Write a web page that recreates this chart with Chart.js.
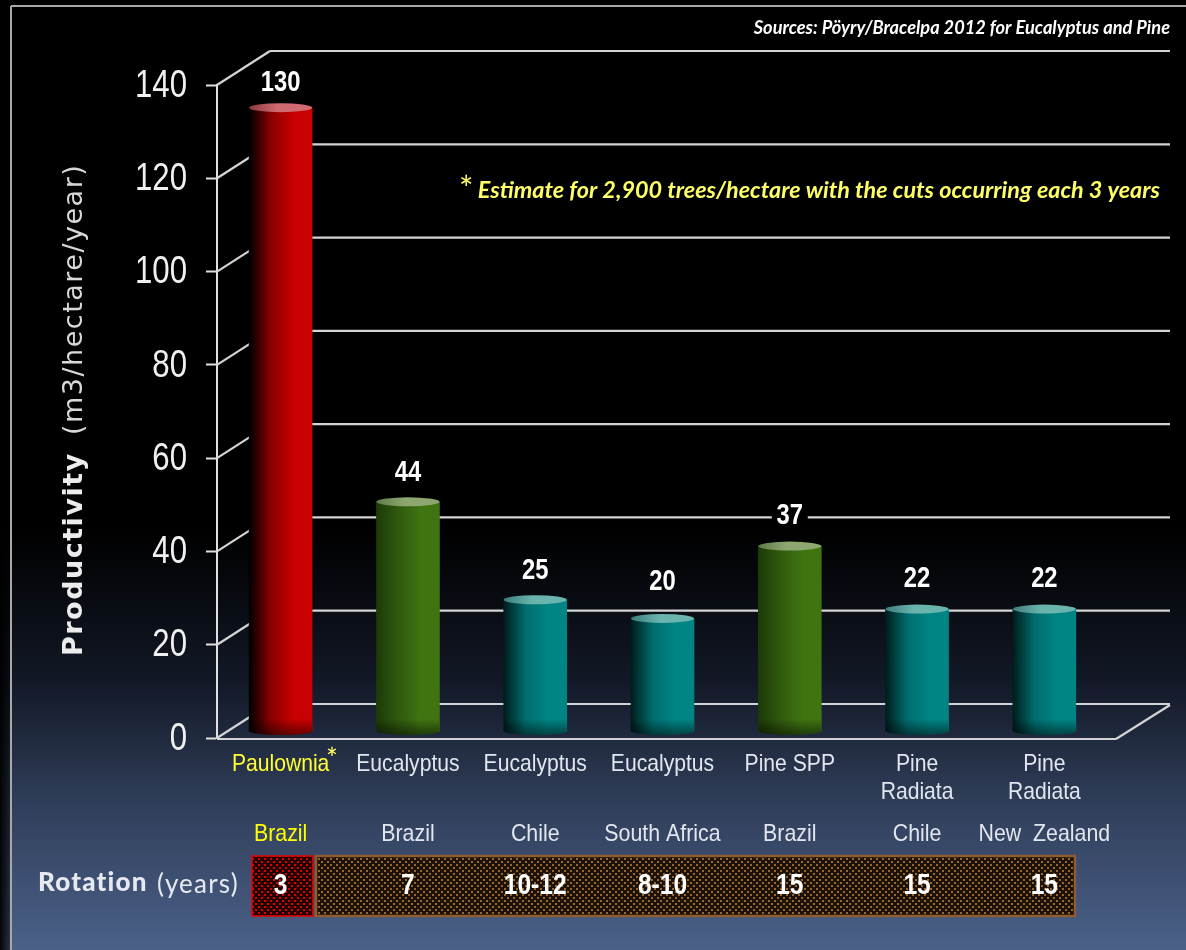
<!DOCTYPE html>
<html>
<head>
<meta charset="utf-8">
<title>Productivity</title>
<script src="https://cdn.jsdelivr.net/npm/chart.js@4"></script>
<style>
    html, body { margin: 0; padding: 0; width: 1186px; height: 950px; overflow: hidden; }
    body {
        background:
            linear-gradient(to right, rgba(0,0,0,0.95) 0, rgba(0,0,0,0.55) 9px, rgba(0,0,0,0) 12px),
            linear-gradient(to bottom, #000 0, #000 530px, #121826 680px, #2f3d58 800px, #4b6189 950px);
    }
    canvas { display: block; }
</style>
</head>
<body>
<canvas id="chart" width="1186" height="950"></canvas>
<script>
const species = ['Paulownia', 'Eucalyptus', 'Eucalyptus', 'Eucalyptus', 'Pine SPP', ['Pine', 'Radiata'], ['Pine', 'Radiata']];
const countries = ['Brazil', 'Brazil', 'Chile', 'South Africa', 'Brazil', 'Chile', 'New  Zealand'];
const rotation = ['3', '7', '10-12', '8-10', '15', '15', '15'];
const printedValues = ['130', '44', '25', '20', '37', '22', '22'];
// heights as the cylinders stand in the picture, read on the middle of the 3D box
const barHeights = [131.5, 47, 26, 22, 37.5, 24, 24];
const barKinds = ['red', 'green', 'teal', 'teal', 'green', 'teal', 'teal'];
const yTicks = [0, 20, 40, 60, 80, 100, 120, 140];

const palette = {
    red: { dark: '#000000', mid: '#8c0000', full: '#c80000', capDark: '#8c3a3e', cap: '#cf6a70' },
    green: { dark: '#1c3a08', mid: '#30590e', full: '#3f7411', capDark: '#5f7a4a', cap: '#8ea670' },
    teal: { dark: '#001c1c', mid: '#006e6e', full: '#008484', capDark: '#3e7e7c', cap: '#6ab4ae' }
};
const arial = '"Liberation Sans"';
const BAR_W = 63, DEPTH_X = 53, DEPTH_Y = 34, WALL_RIGHT = 1170, FLOOR_RIGHT = 1116;
const labelLift = [26, 30, 30, 37, 31, 31, 31];

function barGradient(context) {
    const chart = context.chart;
    const i = context.dataIndex;
    if (!chart.scales.x || i === undefined) return '#000';
    const x = chart.scales.x.getPixelForValue(i);
    if (!Number.isFinite(x)) return '#000';
    const c = palette[barKinds[i]];
    const g = chart.ctx.createLinearGradient(x - BAR_W / 2, 0, x + BAR_W / 2, 0);
    g.addColorStop(0, c.dark);
    g.addColorStop(0.35, c.mid);
    g.addColorStop(0.7, c.full);
    g.addColorStop(1, c.full);
    return g;
}

function dotPattern(ctx, back, dot) {
    const tile = document.createElement('canvas');
    tile.width = 6;
    tile.height = 6;
    const t = tile.getContext('2d');
    t.fillStyle = back;
    t.fillRect(0, 0, 6, 6);
    t.fillStyle = dot;
    t.fillRect(0, 0, 2, 2);
    t.fillRect(3, 3, 2, 2);
    return ctx.createPattern(tile, 'repeat');
}

function line(ctx, x1, y1, x2, y2) {
    ctx.beginPath();
    ctx.moveTo(x1, y1);
    ctx.lineTo(x2, y2);
    ctx.stroke();
}

// the picture's text is a condensed Arial, so squeeze Liberation Sans sideways
function squeezed(ctx, text, x, y, sx) {
    ctx.save();
    ctx.translate(x, y);
    ctx.scale(sx, 1);
    ctx.fillText(text, 0, 0);
    ctx.restore();
}

// frame, back wall and floor of the 3D box
const boxPlugin = {
    id: 'box',
    beforeDatasetsDraw(chart) {
        const ctx = chart.ctx;
        const y = chart.scales.y;
        const left = chart.chartArea.left;
        ctx.save();
        ctx.strokeStyle = '#a8a8a8';
        ctx.lineWidth = 2;
        line(ctx, 11, 6, 1186, 6);
        line(ctx, 11, 6, 11, 950);

        ctx.strokeStyle = '#d4d4d4';
        ctx.lineWidth = 2.2;
        yTicks.forEach(v => {
            const py = y.getPixelForValue(v);
            line(ctx, left, py, left + DEPTH_X, py - DEPTH_Y);
            line(ctx, left + DEPTH_X, py - DEPTH_Y, WALL_RIGHT, py - DEPTH_Y);
        });
        const floor = y.getPixelForValue(0) + 1;
        line(ctx, left, floor, FLOOR_RIGHT, floor);
        line(ctx, FLOOR_RIGHT, floor, WALL_RIGHT, floor - DEPTH_Y);
        ctx.restore();
    }
};

// caps and feet of the cylinders, value labels, rotation row and free text
const overlayPlugin = {
    id: 'overlay',
    afterDatasetsDraw(chart) {
        const ctx = chart.ctx;
        const meta = chart.getDatasetMeta(0);
        const x = chart.scales.x;
        const y = chart.scales.y;
        const half = BAR_W / 2;
        ctx.save();
        ctx.textAlign = 'center';
        ctx.textBaseline = 'middle';

        meta.data.forEach((bar, i) => {
            const c = palette[barKinds[i]];
            const fade = ctx.createLinearGradient(0, bar.base - 12, 0, bar.base + 4);
            fade.addColorStop(0, 'rgba(0,0,0,0)');
            fade.addColorStop(1, 'rgba(0,0,0,0.5)');
            ctx.fillStyle = barGradient({ chart: chart, dataIndex: i });
            ctx.beginPath();
            ctx.ellipse(bar.x, bar.base, half, 4, 0, 0, Math.PI);
            ctx.fill();
            ctx.fillStyle = fade;
            ctx.beginPath();
            ctx.moveTo(bar.x - half, bar.base - 12);
            ctx.lineTo(bar.x + half, bar.base - 12);
            ctx.lineTo(bar.x + half, bar.base);
            ctx.ellipse(bar.x, bar.base, half, 4, 0, 0, Math.PI);
            ctx.closePath();
            ctx.fill();

            const cap = ctx.createLinearGradient(bar.x - half, 0, bar.x + half, 0);
            cap.addColorStop(0, c.capDark);
            cap.addColorStop(0.45, c.cap);
            cap.addColorStop(1, c.cap);
            ctx.fillStyle = cap;
            ctx.beginPath();
            ctx.ellipse(bar.x, bar.y, half, 4.5, 0, 0, Math.PI * 2);
            ctx.fill();

            const labelY = bar.y - labelLift[i];
            if (printedValues[i] === '37') {
                ctx.fillStyle = '#000';
                ctx.fillRect(bar.x - 18, labelY - 13, 36, 26);
            }
            ctx.fillStyle = '#fff';
            ctx.font = 'bold 29px ' + arial;
            squeezed(ctx, printedValues[i], bar.x, labelY + 1, 0.82);
        });

        // value axis labels
        ctx.textAlign = 'right';
        ctx.fillStyle = '#f0f0f0';
        ctx.font = '39px ' + arial;
        yTicks.forEach(v => squeezed(ctx, String(v), 187, y.getPixelForValue(v) + 1, 0.8));
        ctx.textAlign = 'center';

        // category labels, one or two lines
        ctx.font = '24px ' + arial;
        species.forEach((name, i) => {
            ctx.fillStyle = i === 0 ? '#ffff33' : '#e2e6ee';
            [].concat(name).forEach((row, k) => squeezed(ctx, row, x.getPixelForValue(i), 764 + k * 28, 0.88));
        });
        ctx.fillStyle = '#ffff66';
        ctx.font = '28px Lato';
        ctx.fillText('*', 332, 760);

        // country row
        ctx.font = '24px ' + arial;
        countries.forEach((name, i) => {
            ctx.fillStyle = i === 0 ? '#ffff00' : '#e2e6ee';
            squeezed(ctx, name, x.getPixelForValue(i), 834, 0.89);
        });

        // rotation row
        ctx.fillStyle = dotPattern(ctx, '#1e0000', '#e00000');
        ctx.fillRect(252, 856, 61, 60);
        ctx.strokeStyle = '#e80000';
        ctx.lineWidth = 1.5;
        ctx.strokeRect(252, 856, 61, 60);
        ctx.fillStyle = dotPattern(ctx, '#1c1208', '#9a6630');
        ctx.fillRect(316, 856, 759, 60);
        ctx.strokeStyle = '#8e5c30';
        ctx.lineWidth = 2.5;
        ctx.strokeRect(316, 856, 759, 60);
        ctx.fillStyle = '#fff';
        ctx.font = 'bold 30px ' + arial;
        rotation.forEach((r, i) => squeezed(ctx, r, x.getPixelForValue(i), 886, 0.82));

        ctx.textAlign = 'left';
        ctx.fillStyle = '#e6e9f0';
        ctx.letterSpacing = '1.2px';
        ctx.font = '900 26px Lato';
        ctx.fillText('Rotation', 38, 883);
        ctx.font = '26px Lato';
        ctx.fillText('(years)', 157, 885);
        ctx.letterSpacing = '0px';

        // rotated axis title
        ctx.save();
        ctx.translate(75, 656);
        ctx.rotate(-Math.PI / 2);
        ctx.fillStyle = '#ececec';
        ctx.letterSpacing = '1.5px';
        ctx.font = 'bold 27px "DejaVu Sans"';
        ctx.fillText('Productivity', 0, 0);
        ctx.font = '27px "DejaVu Sans"';
        ctx.fillStyle = '#d8d8d8';
        ctx.fillText('(m3/hectare/year)', 221, 0);
        ctx.restore();

        // notes
        ctx.textAlign = 'right';
        ctx.fillStyle = '#ffffff';
        ctx.font = 'italic bold 18.2px Lato';
        ctx.fillText('Sources: Pöyry/Bracelpa 2012 for Eucalyptus and Pine', 1170, 28);
        ctx.fillStyle = '#ffff66';
        ctx.font = 'italic bold 23.4px Lato';
        ctx.fillText('Estimate for 2,900 trees/hectare with the cuts occurring each 3 years', 1160, 190);
        ctx.textAlign = 'left';
        ctx.font = '34px Lato';
        ctx.fillText('*', 459, 190);
        ctx.restore();
    }
};

new Chart(document.getElementById('chart').getContext('2d'), {
    type: 'bar',
    data: {
        labels: species,
        datasets: [{
            data: barHeights,
            yAxisID: 'yMid',
            base: -2.14,
            barThickness: BAR_W,
            backgroundColor: barGradient,
            borderWidth: 0
        }]
    },
    options: {
        responsive: false,
        animation: false,
        layout: { padding: { top: 85, right: 78, left: 0, bottom: 0 } },
        plugins: { legend: { display: false }, tooltip: { enabled: false } },
        scales: {
            x: {
                grid: { display: false },
                border: { display: false },
                afterFit(scale) { scale.height = 212; },
                ticks: { display: false }
            },
            y: {
                min: 0,
                max: 140,
                afterFit(scale) { scale.width = 217; },
                afterBuildTicks(scale) { scale.ticks = yTicks.map(v => ({ value: v })); },
                grid: { color: 'transparent', tickColor: '#e0e0e0', tickLength: 11, tickWidth: 2 },
                border: { color: '#e0e0e0', width: 2 },
                ticks: { display: false }
            },
            // same box, measured half way to the back wall: the cylinders stand here
            yMid: { display: false, min: -3.64, max: 136.36 }
        }
    },
    plugins: [boxPlugin, overlayPlugin]
});
</script>
</body>
</html>
